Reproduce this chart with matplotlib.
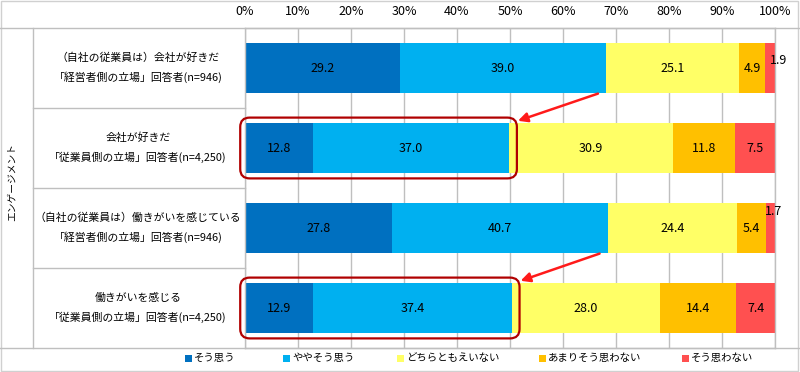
import matplotlib.pyplot as plt
from matplotlib.patches import FancyBboxPatch, Rectangle
from matplotlib.lines import Line2D

plt.rcParams['font.family'] = ['Noto Sans CJK JP', 'DejaVu Sans']

row_labels = [
    '（自社の従業員は）会社が好きだ\n「経営者側の立場」回答者(n=946)',
    '会社が好きだ\n「従業員側の立場」回答者(n=4,250)',
    '（自社の従業員は）働きがいを感じている\n「経営者側の立場」回答者(n=946)',
    '働きがいを感じる\n「従業員側の立場」回答者(n=4,250)',
]
categories = ['そう思う', 'ややそう思う', 'どちらともえいない', 'あまりそう思わない', 'そう思わない']
colors = ['#0070C0', '#00B0F0', '#FFFF66', '#FFC000', '#FF5050']
sou_omou = [29.2, 12.8, 27.8, 12.9]
yaya = [39.0, 37.0, 40.7, 37.4]
dochira = [25.1, 30.9, 24.4, 28.0]
amari = [4.9, 11.8, 5.4, 14.4]
omowanai = [1.9, 7.5, 1.7, 7.4]
series = [sou_omou, yaya, dochira, amari, omowanai]
side_label_title = 'エンゲージメント'

W, H = 800, 372
fig = plt.figure(figsize=(8, 3.72), dpi=100)

def fx(px):
    return px / W

def fy(py):
    return 1 - py / H

ax = fig.add_axes([fx(245), fy(348), fx(530), (348 - 28) / H])

rows = list(range(len(row_labels)))
left = [0.0] * len(rows)
for vals, col in zip(series, colors):
    ax.barh(rows, vals, left=left, height=0.625, color=col, zorder=2)
    for r, v in enumerate(vals):
        if v >= 3:
            ax.text(left[r] + v / 2, r, f'{v:.1f}', ha='center', va='center',
                    fontsize=9, color='black', zorder=3)
        else:
            # small slices: label sits just outside the bar, a bit higher
            dx, dy = (1.5, -0.1) if r == 0 else (0.6, -0.21)
            ax.text(left[r] + v / 2 + dx, r + dy, f'{v:.1f}',
                    ha='center', va='center', fontsize=9, color='black', zorder=3,
                    clip_on=False)
    left = [l + v for l, v in zip(left, vals)]

ax.set_xlim(0, 100)
ax.set_ylim(3.5, -0.5)
ax.set_xticks(range(0, 101, 10))
ax.set_xticklabels([f'{t}%' for t in range(0, 101, 10)], fontsize=9)
ax.xaxis.tick_top()
ax.tick_params(axis='x', length=0, pad=7)
ax.set_yticks([])
ax.grid(axis='x', color='#BFBFBF', lw=1, zorder=0)
for s in ax.spines.values():
    s.set_color('#BFBFBF')
    s.set_linewidth(1)

# red rounded boxes around the employee-side positive share
for r in [1, 3]:
    x1 = sou_omou[r] + yaya[r] + 1.5
    box = FancyBboxPatch((-0.9, r - 0.38), x1 + 0.9, 0.76,
                         boxstyle='round,pad=0,rounding_size=1.8',
                         mutation_aspect=0.065, fill=False,
                         ec='#B00000', lw=1.6, clip_on=False, zorder=4)
    ax.add_patch(box)

# arrows from the manager row to the employee row
for r in [0, 2]:
    x0 = sou_omou[r] + yaya[r] - 1.6
    x1 = sou_omou[r + 1] + yaya[r + 1] + 1.7
    ax.annotate('', xy=(x1, r + 0.66), xytext=(x0, r + 0.32),
                arrowprops=dict(arrowstyle='-|>', color='#FF1A1A', lw=1.8,
                                mutation_scale=14, shrinkA=0, shrinkB=0),
                zorder=5, annotation_clip=False)

# table frame on the left
line_col = '#BFBFBF'
fig.add_artist(Line2D([0, 1], [fy(28), fy(28)], color=line_col, lw=1))
fig.add_artist(Line2D([0, 1], [fy(348), fy(348)], color=line_col, lw=1))
fig.add_artist(Line2D([fx(33), fx(33)], [fy(28), fy(348)], color=line_col, lw=1))
for py in [108, 188, 268]:
    fig.add_artist(Line2D([fx(33), fx(245)], [fy(py), fy(py)], color=line_col, lw=1))
fig.add_artist(Rectangle((0.001, 0.002), 0.997, 0.996, fill=False, ec='#D0D0D0', lw=1))

for r, lab in enumerate(row_labels):
    fig.text(fx(138), fy(68 + 80 * r), lab, ha='center', va='center',
             fontsize=7.8, linespacing=1.9)

fig.text(fx(12), fy(182), side_label_title, rotation=90, ha='center', va='center', fontsize=7)

# legend
leg_x = [188, 286, 400, 542, 685]
for x, cat, col in zip(leg_x, categories, colors):
    fig.add_artist(Rectangle((fx(x - 3.5), fy(361.5)), fx(7), 7 / H, color=col, lw=0))
    fig.text(fx(x + 6), fy(358), cat, ha='left', va='center', fontsize=7.5)

fig.savefig('out.png', dpi=100)
